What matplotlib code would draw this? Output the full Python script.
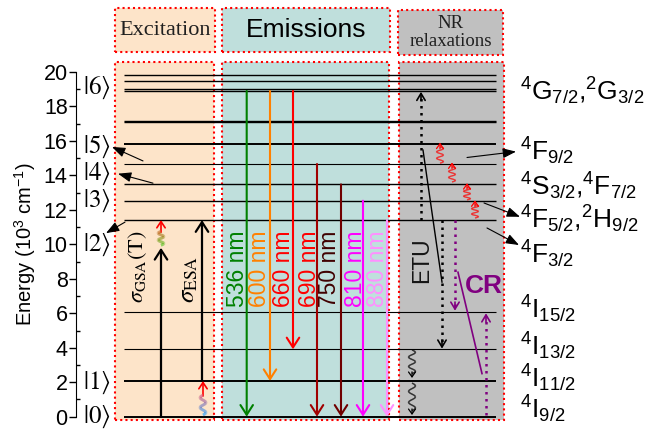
import numpy as np
import matplotlib
matplotlib.use('Agg')
import matplotlib.pyplot as plt
from matplotlib.patches import Rectangle
from matplotlib.collections import LineCollection
from matplotlib.colors import to_rgb

plt.rcParams['font.family'] = ['Liberation Sans', 'DejaVu Sans']
plt.rcParams['mathtext.fontset'] = 'custom'
plt.rcParams['mathtext.rm'] = 'Liberation Sans'
plt.rcParams['mathtext.it'] = 'Liberation Sans:italic'
plt.rcParams['mathtext.bf'] = 'Liberation Sans:bold'

# ---------------- data ----------------
level_energies = [0.0, 2.07, 3.91, 6.09, 11.41, 12.53, 13.48, 14.66, 15.84,
                  17.12, 17.18, 18.9, 19.0, 19.47, 19.82]
level_kind = ['thick', 'thick', 'thin', 'thin', 'mid', 'mid', 'mid', 'thin', 'thick',
              'double', 'double', 'double', 'double', 'mid', 'mid']

state_labels = [r'$|0\rangle$', r'$|1\rangle$', r'$|2\rangle$', r'$|3\rangle$',
                r'$|4\rangle$', r'$|5\rangle$', r'$|6\rangle$']
state_energies = [0.0, 1.95, 10.0, 12.55, 14.1, 15.65, 19.1]

term_labels = [r'$\mathregular{^4G_{7/2}{,}^2G_{3/2}}$', r'$\mathregular{^4F_{9/2}}$',
               r'$\mathregular{^4S_{3/2}{,}^4F_{7/2}}$', r'$\mathregular{^4F_{5/2}{,}^2H_{9/2}}$',
               r'$\mathregular{^4F_{3/2}}$', r'$\mathregular{^4I_{15/2}}$',
               r'$\mathregular{^4I_{13/2}}$', r'$\mathregular{^4I_{11/2}}$',
               r'$\mathregular{^4I_{9/2}}$']
term_energies = [18.37, 14.89, 12.86, 10.95, 8.92, 5.73, 3.58, 1.72, -0.08]

emission_labels = ['536 nm', '600 nm', '660 nm', '690 nm', '750 nm', '810 nm', '880 nm']
emission_start = [18.9, 18.9, 18.9, 14.66, 13.48, 12.53, 11.41]
emission_end = [0.0, 2.07, 3.91, 0.0, 0.0, 0.0, 0.0]
emission_colors = ['#008000', '#ff8000', '#ff0000', '#a00000', '#700000', '#ff00ff', '#ff90ff']
emission_text_colors = ['#008000', '#ff8000', '#ff0000', '#ff0000', '#400000', '#ff00ff', '#ff90ff']

section_titles = ['Excitation', 'Emissions', 'NR\nrelaxations']

# ---------------- layout (x in pixel-like units) ----------------
emission_x = [246.7, 270, 293, 317, 341, 363, 387]
emission_text_x = [237, 260, 284, 309, 330, 355, 378]
line_x0, line_x1 = 124, 496
level_lw = {'thick': 1.4, 'mid': 1.0, 'thin': 0.8, 'double': 1.0}

fig = plt.figure(figsize=(6.53, 4.34), dpi=100)
ax = fig.add_axes([76/653, 17.3/434, 577/653, 344.7/434])
ax.set_xlim(76, 653)
ax.set_ylim(0, 20)
for s in ['top', 'right', 'bottom']:
    ax.spines[s].set_visible(False)
ax.set_xticks([])
ax.set_yticks(np.arange(0, 21, 2))
ax.set_yticks(np.arange(1, 20, 2), minor=True)
ax.tick_params(axis='y', which='major', direction='out', length=5, width=1, labelsize=15.5, pad=1)
ax.tick_params(axis='y', which='minor', direction='in', length=3, width=1)
ax.set_ylabel('Energy (10$^3$ cm$^{-1}$)', fontsize=14.5, labelpad=4)

def e(ypx):
    return (416.7 - ypx) / 17.235

dot = (0, (1, 1.5))
# section boxes
boxes = [(115, 214, '#fde4c9'), (222, 389, '#bfdfdc'), (399, 504, '#c0c0c0')]
for x0, x1, fc in boxes:
    ax.add_patch(Rectangle((x0, e(420)), x1 - x0, e(62) - e(420), facecolor=fc,
                           edgecolor='red', lw=1.5, linestyle=dot, clip_on=False, zorder=0))
heads = [(115, 215, 8, 52, '#fde4c9'), (222, 390, 8, 52, '#bfdfdc'), (398, 503, 10, 55, '#c0c0c0')]
for (x0, x1, y0, y1, fc), title in zip(heads, section_titles):
    ax.add_patch(Rectangle((x0, e(y1)), x1 - x0, e(y0) - e(y1), facecolor=fc,
                           edgecolor='red', lw=1.5, linestyle=dot, clip_on=False, zorder=0))
    if title == 'Emissions':
        ax.text((x0 + x1) / 2, (e(y0) + e(y1)) / 2, title, fontsize=19, ha='center', va='center',
                clip_on=False)
    else:
        ax.text((x0 + x1) / 2, (e(y0) + e(y1)) / 2, title,
                fontsize=16 if title == 'Excitation' else 13.5, ha='center', va='center',
                family=['Liberation Serif', 'DejaVu Serif'], linespacing=1.15, color='#202020',
                clip_on=False)

# energy levels
for en, kind in zip(level_energies, level_kind):
    ax.plot([line_x0, line_x1], [en, en], color='black', lw=level_lw[kind],
            solid_capstyle='butt', clip_on=False, zorder=2)

# state labels
for lab, en in zip(state_labels, state_energies):
    ax.text(83, en, lab, fontsize=18, ha='left', va='center', math_fontfamily='stix', clip_on=False)

# term labels
for lab, en in zip(term_labels, term_energies):
    ax.text(520, en, lab, fontsize=19, ha='left', va='baseline', clip_on=False)

def arrow(x0, y0, x1, y1, color='black', lw=1.5, hl=0.7, hw=0.45, style='->', z=4):
    ax.annotate('', xy=(x1, y1), xytext=(x0, y0), annotation_clip=False,
                arrowprops=dict(arrowstyle=f'{style},head_length={hl},head_width={hw}',
                                color=color, lw=lw, shrinkA=0, shrinkB=0, mutation_scale=10),
                zorder=z)

# emission arrows
for x, s, t, c in zip(emission_x, emission_start, emission_end, emission_colors):
    arrow(x, s, x, t, color=c, lw=1.5)
for x, lab, c in zip(emission_text_x, emission_labels, emission_text_colors):
    ax.text(x, 6.38, lab, rotation=90, fontsize=16.5, color=c, ha='center', va='bottom')

# pointer arrows (left)
for (x0, y0, x1, y1) in [(143, 14.84, 112, 15.65), (153, 13.55, 118, 14.1), (125, 11.29, 106, 10.65)]:
    arrow(x0, y0, x1, y1, lw=0.8, style='-|>', hl=0.8, hw=0.3)
# pointer arrows (right)
for (x0, y0, x1, y1) in [(467, 15.04, 516, 15.38), (484, 12.4, 520, 11.6), (487, 10.95, 519, 9.96)]:
    arrow(x0, y0, x1, y1, lw=0.8, style='-|>', hl=0.8, hw=0.3)

# excitation arrows
arrow(161, 0.0, 161, 9.8, lw=1.6)
arrow(202, 2.07, 202, 11.41, lw=1.6)

def squiggle(x, e0, e1, amp, n, colors, lw=1.5, z=5):
    t = np.linspace(0, 1, 120)
    xx = x + amp * np.sin(2 * np.pi * n * t)
    yy = e0 + (e1 - e0) * t
    pts = np.column_stack([xx, yy]).reshape(-1, 1, 2)
    segs = np.concatenate([pts[:-1], pts[1:]], axis=1)
    c0, c1 = np.array(to_rgb(colors[0])), np.array(to_rgb(colors[1]))
    cols = [tuple(c0 + (c1 - c0) * v) for v in np.linspace(0, 1, len(segs))]
    lc = LineCollection(segs, colors=cols, linewidths=lw, zorder=z, clip_on=False)
    ax.add_collection(lc)

squiggle(161, 9.95, 10.75, 3, 2, ['#66cc33', '#d07030'], lw=2)
arrow(161, 10.7, 161, 11.41, color='red', lw=1.2, hl=0.45, hw=0.3)
squiggle(203, 0.1, 1.25, 3, 2, ['#33aaff', '#e06080'], lw=2)
arrow(203, 1.2, 203, 2.07, color='red', lw=1.2, hl=0.45, hw=0.3)

ax.text(138, 6.6, r'$\sigma_{\mathrm{GSA}}(\mathrm{T})$', rotation=90, fontsize=16,
        ha='center', va='bottom', math_fontfamily='stix')
ax.text(188, 6.6, r'$\sigma_{\mathrm{ESA}}$', rotation=90, fontsize=18,
        ha='center', va='bottom', math_fontfamily='stix')

# NR relaxations
def dotted_arrow(x, e0, e1, color, lw=1.8):
    ax.plot([x, x], [e0, e1 - np.sign(e1 - e0) * 0.15], color=color, lw=lw,
            linestyle=(0, (1, 1.8)), zorder=4)
    arrow(x, e1 - np.sign(e1 - e0) * 0.5, x, e1, color=color, lw=1.2, hl=0.5, hw=0.3)

dotted_arrow(421, 11.41, 18.85, 'black')
dotted_arrow(442, 11.41, 3.95, 'black')
dotted_arrow(455, 11.41, 6.15, '#800080')
dotted_arrow(486, 0.1, 6.0, '#800080')

ax.plot([423, 442], [15.47, 7.81], color='black', lw=1.0, zorder=4)
ax.plot([458, 482], [8.38, 2.5], color='#800080', lw=1.2, zorder=4)
ax.text(422, 9.1, 'ETU', rotation=90, fontsize=16.5, color='#151515', ha='center', va='center')
ax.text(484, 7.6, 'CR', fontsize=19, fontweight='bold', color='#800080', ha='center', va='center')

# red NR squiggles (upward)
for x, e0, e1 in [(440, 14.71, 15.65), (452, 13.62, 14.5), (467, 12.58, 13.3), (475, 11.53, 12.3)]:
    squiggle(x, e0, e1, 3.5, 2.5, ['red', 'red'], lw=0.9)
    arrow(x, e1 - 0.1, x, e1 + 0.25, color='red', lw=0.9, hl=0.35, hw=0.25)

# black NR squiggles (downward)
for e0, e1 in [(3.87, 2.5), (1.95, 0.35)]:
    squiggle(412, e0, e1, 3.5, 2.5, ['black', 'black'], lw=1.0)
    arrow(412, e1 + 0.1, 412, e1 - 0.25, color='black', lw=0.9, hl=0.35, hw=0.25)

fig.savefig('out.png', dpi=100)
